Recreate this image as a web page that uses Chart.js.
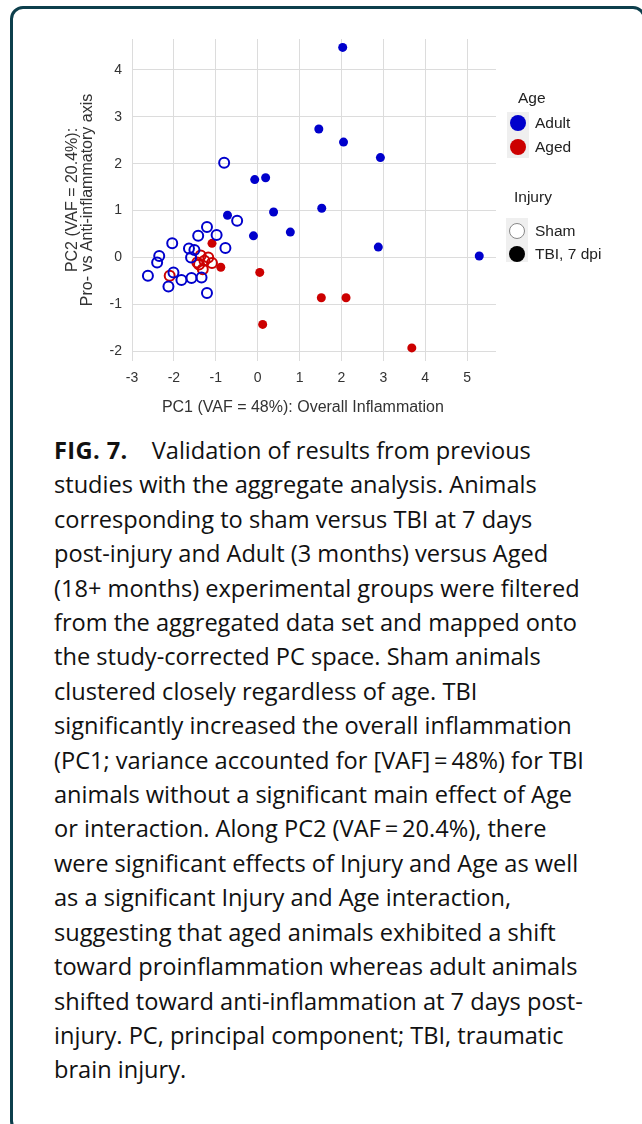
<!DOCTYPE html>
<html>
<head>
<meta charset="utf-8">
<script src="https://cdn.jsdelivr.net/npm/chart.js@4.4.1/dist/chart.umd.min.js"></script>
<style>
  html, body { margin: 0; padding: 0; background: #fff; width: 642px; height: 1124px; overflow: hidden; }
  #frame { position: absolute; left: 10px; top: 6px; width: 636px; height: 1128px; box-sizing: border-box;
           border: 3px solid #0d3f4c; border-radius: 13px; }
  #chart { position: absolute; left: 0; top: 0; }
  .lg { position: absolute; font-family: "Liberation Sans", Arial, sans-serif; font-size: 15.5px; color: #222; line-height: 16px; white-space: nowrap; }
  .blk { position: absolute; background: #efefef; }
  .dot { position: absolute; border-radius: 50%; box-sizing: border-box; }
  #caption { position: absolute; left: 54px; top: 433px; font-family: "Open Sans", sans-serif; font-size: 23.6px;
             line-height: 34.4px; color: #111; white-space: nowrap; }
  #caption b { font-weight: 700; margin-right: 24px; letter-spacing: 0.4px; }
</style>
</head>
<body>
<div id="frame"></div>
<canvas id="chart" width="642" height="430"></canvas>

<div class="lg" style="left:518px; top:90px;">Age</div>
<div class="blk" style="left:507px; top:112px; width:22px; height:46px;"></div>
<div class="dot" style="left:510px; top:115px; width:16px; height:16px; background:#0000cc;"></div>
<div class="lg" style="left:535px; top:115px;">Adult</div>
<div class="dot" style="left:510px; top:139px; width:16px; height:16px; background:#cc0000;"></div>
<div class="lg" style="left:535px; top:139px;">Aged</div>

<div class="lg" style="left:514px; top:189px;">Injury</div>
<div class="blk" style="left:506px; top:218px; width:22px; height:44px;"></div>
<div class="dot" style="left:509px; top:223px; width:16px; height:16px; background:#fff; border:1.5px solid #888;"></div>
<div class="lg" style="left:535px; top:223px;">Sham</div>
<div class="dot" style="left:509px; top:246px; width:16px; height:16px; background:#000;"></div>
<div class="lg" style="left:535px; top:246px;">TBI, 7 dpi</div>

<div id="caption">
<b>FIG. 7.</b>Validation of results from previous<br>
studies with the aggregate analysis. Animals<br>
corresponding to sham versus TBI at 7 days<br>
post-injury and Adult (3 months) versus Aged<br>
(18+ months) experimental groups were filtered<br>
from the aggregated data set and mapped onto<br>
the study-corrected PC space. Sham animals<br>
clustered closely regardless of age. TBI<br>
significantly increased the overall inflammation<br>
(PC1; variance accounted for [VAF]&#8201;=&#8201;48%) for TBI<br>
animals without a significant main effect of Age<br>
or interaction. Along PC2 (VAF&#8201;=&#8201;20.4%), there<br>
were significant effects of Injury and Age as well<br>
as a significant Injury and Age interaction,<br>
suggesting that aged animals exhibited a shift<br>
toward proinflammation whereas adult animals<br>
shifted toward anti-inflammation at 7 days post-<br>
injury. PC, principal component; TBI, traumatic<br>
brain injury.
</div>

<script>
// ---- Data (PC1, PC2 coordinates) ----
const xTicks = [-3, -2, -1, 0, 1, 2, 3, 4, 5];
const yTicks = [-2, -1, 0, 1, 2, 3, 4];

const adultShamPC1 = [-0.80, -0.49, -1.21, -1.42, -0.98, -2.04, -0.77, -1.64, -1.51, -1.59, -2.35, -2.40, -2.62, -2.01, -2.13, -1.82, -1.58, -1.34, -1.21];
const adultShamPC2 = [ 2.02,  0.78,  0.65,  0.46,  0.48,  0.30,  0.20,  0.19,  0.16,  0.00,  0.03, -0.11, -0.39, -0.32, -0.62, -0.48, -0.44, -0.43, -0.76];

const agedShamPC1 = [-1.36, -1.18, -1.44, -1.27, -1.09, -1.40, -1.31, -2.10];
const agedShamPC2 = [ 0.04,  0.00, -0.11, -0.07, -0.12, -0.15, -0.25, -0.39];

const adultTbiPC1 = [2.03, 1.46, 2.05, 2.93, -0.07, 0.19, -0.72, 0.38, 1.53, -0.10, 0.78, 2.88, 5.29];
const adultTbiPC2 = [4.48, 2.74, 2.46, 2.13,  1.66, 1.70,  0.90, 0.97, 1.05,  0.46, 0.54, 0.22, 0.03];

const agedTbiPC1 = [-1.09, -0.88,  0.05,  1.52,  2.11,  0.12,  3.68];
const agedTbiPC2 = [ 0.30, -0.21, -0.32, -0.86, -0.86, -1.43, -1.93];

const BLUE = '#0000cc';
const RED = '#cc0000';

function pts(xs, ys) { return xs.map((x, i) => ({ x: x, y: ys[i] })); }

const hollow = (label, xs, ys, color) => ({
  label, data: pts(xs, ys), borderColor: color, backgroundColor: 'rgba(0,0,0,0)',
  pointRadius: 5, pointBorderWidth: 2, pointHoverRadius: 5
});
const filled = (label, xs, ys, color) => ({
  label, data: pts(xs, ys), borderColor: color, backgroundColor: color,
  pointRadius: 4.5, pointBorderWidth: 0, pointHoverRadius: 4.5
});

const tickFont = { family: '"Liberation Sans", Arial, sans-serif', size: 14 };
const titleFamily = '"Liberation Sans", Arial, sans-serif';
const gridOpts = { color: '#dcdcdc', lineWidth: 1, drawTicks: false };
const NB = '\u00A0';

new Chart(document.getElementById('chart'), {
  type: 'scatter',
  data: {
    datasets: [
      hollow('Adult, Sham', adultShamPC1, adultShamPC2, BLUE),
      hollow('Aged, Sham', agedShamPC1, agedShamPC2, RED),
      filled('Adult, TBI 7 dpi', adultTbiPC1, adultTbiPC2, BLUE),
      filled('Aged, TBI 7 dpi', agedTbiPC1, agedTbiPC2, RED)
    ]
  },
  options: {
    responsive: false,
    devicePixelRatio: 1,
    animation: false,
    events: [],
    layout: { padding: { left: 0, right: 146, top: 39, bottom: 0 } },
    plugins: { legend: { display: false }, tooltip: { enabled: false } },
    scales: {
      x: {
        type: 'linear', min: -3, max: 5.69,
        afterBuildTicks: s => { s.ticks = xTicks.map(v => ({ value: v })); },
        afterFit: s => { s.height = 69; },
        grid: gridOpts,
        border: { display: false },
        ticks: { font: tickFont, color: '#333', padding: 9, maxRotation: 0 },
        title: { display: true, text: 'PC1 (VAF = 48%): Overall Inflammation' + NB.repeat(5),
                 font: { family: titleFamily, size: 16, lineHeight: 1.2 },
                 color: '#333', padding: { top: 0, bottom: 13 } }
      },
      y: {
        type: 'linear', min: -2.21, max: 4.66,
        afterBuildTicks: s => { s.ticks = yTicks.map(v => ({ value: v })); },
        afterFit: s => { s.width = 132; },
        grid: gridOpts,
        border: { display: false },
        ticks: { font: tickFont, color: '#333', padding: 10 },
        title: { display: true, text: ['PC2 (VAF = 20.4%):', 'Pro- vs Anti-inflammatory axis'],
                 font: { family: titleFamily, size: 16, lineHeight: 15 / 16 },
                 color: '#333', padding: { top: 65, bottom: 0 } }
      }
    }
  }
});
</script>
</body>
</html>
